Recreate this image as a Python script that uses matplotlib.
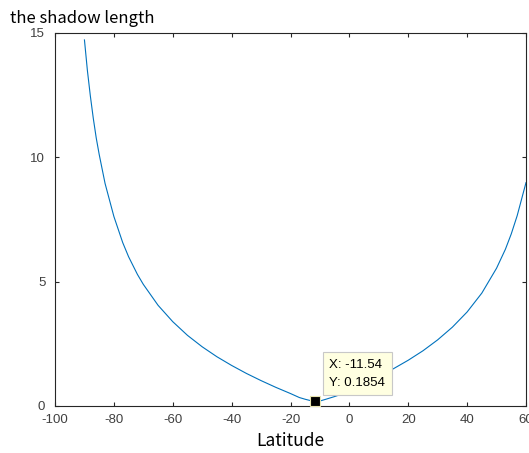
import matplotlib.pyplot as plt

plt.rcParams['axes.unicode_minus'] = False

# values
latitude = [-90, -89, -88, -87, -86, -85, -83, -80, -77, -75, -72, -70, -65, -60,
            -55, -50, -45, -40, -35, -30, -25, -20, -17, -15, -13, -11.54, -10,
            -8, -5, -2, 0, 5, 10, 15, 20, 25, 30, 35, 40, 45, 50, 53, 55, 57, 60]
shadow = [14.72, 13.49, 12.47, 11.57, 10.78, 10.12, 8.95, 7.62, 6.57, 6.00, 5.29,
          4.89, 4.05, 3.39, 2.84, 2.38, 1.98, 1.63, 1.31, 1.02, 0.75, 0.50, 0.34,
          0.27, 0.21, 0.1854, 0.20, 0.27, 0.38, 0.50, 0.62, 0.90, 1.18, 1.50, 1.84,
          2.22, 2.66, 3.17, 3.78, 4.54, 5.54, 6.30, 6.92, 7.65, 8.98]
tip_x, tip_y = -11.54, 0.1854
x_ticks = [-100, -80, -60, -40, -20, 0, 20, 40, 60]
y_ticks = [0, 5, 10, 15]

fig = plt.figure(figsize=(5.29, 4.53), dpi=100)
ax = fig.add_axes([0.104, 0.1038, 0.8903, 0.8234])

ax.plot(latitude, shadow, color='#0072BD', linewidth=0.8)
ax.plot([tip_x], [tip_y], marker='s', markersize=7, markerfacecolor='black',
        markeredgecolor='#E8E4B0', markeredgewidth=0.8, clip_on=False, zorder=5)
ax.annotate('X: -11.54\nY: 0.1854', xy=(tip_x, tip_y), xytext=(10, 9),
            textcoords='offset points', ha='left', va='bottom', fontsize=9.5,
            family='Liberation Sans', color='black', linespacing=1.7,
            bbox=dict(boxstyle='square,pad=0.5', facecolor='#FFFFE1',
                      edgecolor='#C8C8C8', linewidth=0.8))

ax.set_xlim(-100, 60)
ax.set_ylim(0, 15)
ax.set_xticks(x_ticks)
ax.set_yticks(y_ticks)
ax.tick_params(direction='in', top=True, right=True, length=3, width=0.8,
               colors='#262626', labelsize=9.5)
ax.tick_params(axis='x', pad=6)
ax.tick_params(axis='y', pad=7)
ax.tick_params(labelcolor='#404040')
for lab in ax.get_xticklabels() + ax.get_yticklabels():
    lab.set_family('Liberation Sans')
for s in ax.spines.values():
    s.set_color('#262626')
    s.set_linewidth(0.8)

fig.text(0.019, 0.96, 'the shadow length', fontsize=12,
         family=['Noto Sans CJK SC', 'DejaVu Sans'], va='center', ha='left')
fig.text(0.549, 0.026, 'Latitude', fontsize=12.5,
         family=['Noto Sans CJK SC', 'DejaVu Sans'], va='center', ha='center')

fig.savefig('out.png', dpi=100)
